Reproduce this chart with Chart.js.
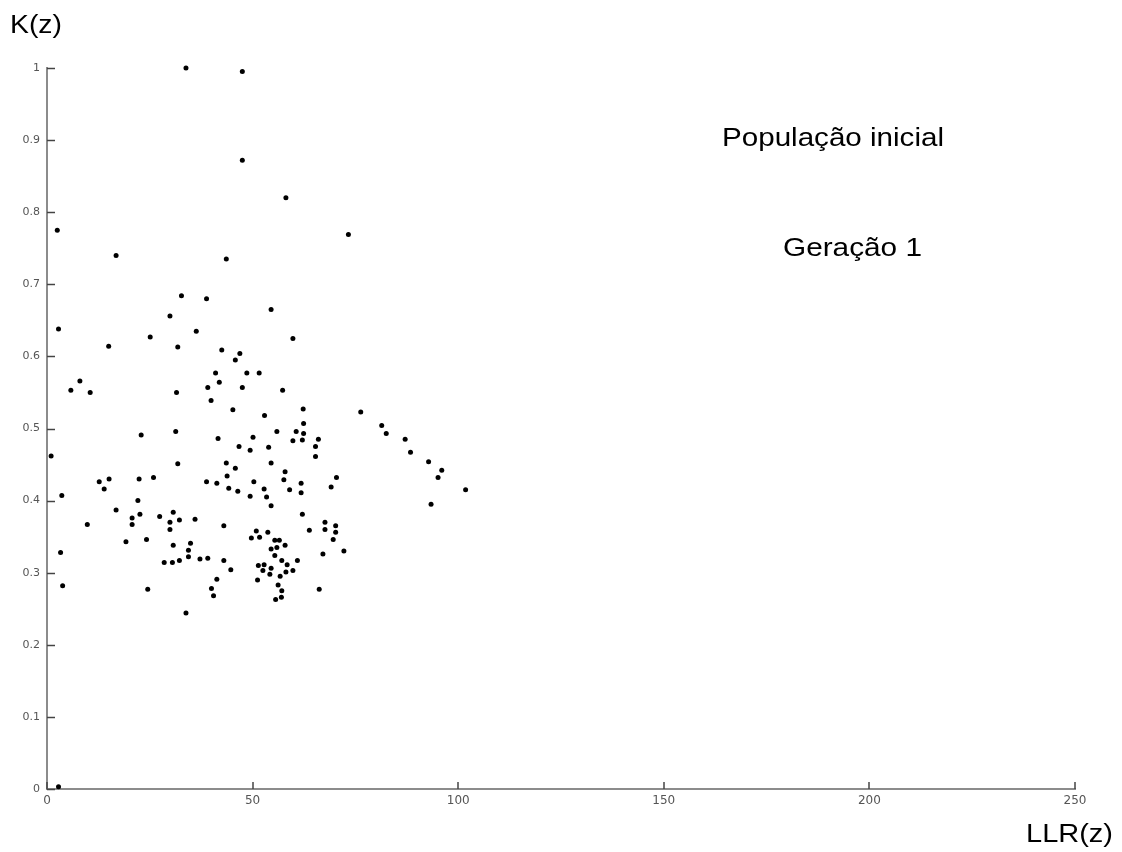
<!DOCTYPE html>
<html>
<head>
<meta charset="utf-8">
<title>População inicial – Geração 1</title>
<script src="https://cdn.jsdelivr.net/npm/chart.js@4.4.1/dist/chart.umd.min.js"></script>
<style>
  html, body { margin: 0; padding: 0; background: #ffffff; }
  #wrap { width: 1122px; height: 852px; position: relative; }
</style>
</head>
<body>
<div id="wrap"><canvas id="chart" width="1122" height="852"></canvas></div>
<script>
// LLR(z) of each individual in the initial population
const llr = [
  33.8, 47.5, 47.5, 58.1, 73.3, 2.5, 16.8, 43.6, 32.7, 38.8,
  29.9, 54.5, 2.8, 36.3, 25.1, 59.8, 15.0, 31.8, 42.5, 46.9,
  45.8, 41.0, 48.6, 51.6, 8.0, 41.9, 5.8, 10.5, 31.5, 39.1,
  47.5, 57.3, 39.9, 45.2, 52.9, 62.3, 76.3, 22.9, 31.3, 1.0,
  31.8, 12.7, 15.1, 13.9, 22.4, 25.9, 38.8, 3.6, 22.1, 16.8,
  20.7, 22.6, 27.4, 30.7, 29.9, 32.2, 36.0, 29.9, 20.7, 9.8,
  19.2, 24.2, 30.7, 34.9, 34.4, 34.4, 28.5, 30.5, 32.2, 37.2,
  39.1, 3.3, 3.8, 24.5, 33.8, 62.4, 60.6, 62.4, 62.1, 59.8,
  66.0, 65.3, 65.3, 55.9, 50.1, 41.6, 46.7, 49.4, 53.9, 43.6,
  45.8, 54.5, 57.9, 43.8, 57.6, 61.8, 41.3, 50.3, 44.2, 46.4,
  52.8, 59.0, 61.8, 49.4, 53.4, 54.5, 69.1, 70.4, 62.1, 43.0,
  50.9, 49.7, 51.7, 53.7, 55.4, 56.5, 57.9, 54.5, 55.9, 55.4,
  57.1, 60.9, 63.8, 67.6, 67.6, 67.1, 43.0, 44.7, 51.4, 52.8,
  52.5, 54.5, 54.2, 56.7, 58.4, 58.1, 59.8, 51.2, 41.3, 40.0,
  40.5, 56.2, 57.1, 57.0, 55.6, 66.2, 81.4, 82.5, 87.1, 88.4,
  92.8, 96.0, 95.1, 101.8, 93.4, 70.2, 70.2, 69.6, 72.2, 2.8
];

// K(z) of the same individuals, in the same order
const kz = [
  1.000, 0.995, 0.872, 0.820, 0.769, 0.775, 0.740, 0.735, 0.684, 0.680,
  0.656, 0.665, 0.638, 0.635, 0.627, 0.625, 0.614, 0.613, 0.609, 0.604,
  0.595, 0.577, 0.577, 0.577, 0.566, 0.564, 0.553, 0.550, 0.550, 0.557,
  0.557, 0.553, 0.539, 0.526, 0.518, 0.527, 0.523, 0.491, 0.496, 0.462,
  0.451, 0.426, 0.430, 0.416, 0.430, 0.432, 0.426, 0.407, 0.400, 0.387,
  0.376, 0.381, 0.378, 0.384, 0.370, 0.373, 0.374, 0.360, 0.367, 0.367,
  0.343, 0.346, 0.338, 0.341, 0.331, 0.322, 0.314, 0.314, 0.317, 0.319,
  0.320, 0.328, 0.282, 0.277, 0.244, 0.507, 0.496, 0.493, 0.484, 0.483,
  0.485, 0.475, 0.461, 0.496, 0.488, 0.486, 0.475, 0.470, 0.474, 0.452,
  0.445, 0.452, 0.440, 0.434, 0.429, 0.424, 0.424, 0.426, 0.417, 0.413,
  0.416, 0.415, 0.411, 0.406, 0.405, 0.393, 0.419, 0.432, 0.381, 0.365,
  0.358, 0.348, 0.349, 0.356, 0.345, 0.345, 0.338, 0.333, 0.335, 0.324,
  0.317, 0.317, 0.359, 0.370, 0.360, 0.326, 0.317, 0.304, 0.310, 0.311,
  0.303, 0.306, 0.298, 0.295, 0.311, 0.301, 0.303, 0.290, 0.291, 0.278,
  0.268, 0.283, 0.275, 0.266, 0.263, 0.277, 0.504, 0.493, 0.485, 0.467,
  0.454, 0.442, 0.432, 0.415, 0.395, 0.365, 0.356, 0.346, 0.330, 0.003
];

const xTicks = [0, 50, 100, 150, 200, 250];
const xTickLabels = ['0', '50', '100', '150', '200', '250'];
const yTicks = [0, 0.1, 0.2, 0.3, 0.4, 0.5, 0.6, 0.7, 0.8, 0.9, 1];
const yTickLabels = ['0', '0.1', '0.2', '0.3', '0.4', '0.5', '0.6', '0.7', '0.8', '0.9', '1'];

const xTitle = 'LLR(z)';
const yTitle = 'K(z)';
const noteTitle = 'População inicial';
const noteGeneration = 'Geração 1';

const points = llr.map((v, i) => ({ x: v, y: kz[i] }));

// Draws a string left-aligned at (x, baseline), stretched to a given width
function stretchedText(ctx, text, x, baseline, width, font) {
  ctx.save();
  ctx.font = font;
  const natural = ctx.measureText(text).width;
  ctx.translate(x, baseline);
  ctx.scale(width / natural, 1);
  ctx.textAlign = 'left';
  ctx.textBaseline = 'alphabetic';
  ctx.fillStyle = '#000000';
  ctx.fillText(text, 0, 0);
  ctx.restore();
}

// Inward tick marks, axis titles and the two annotation lines
const decorations = {
  id: 'decorations',
  afterDraw(chart) {
    const { ctx, chartArea: a, scales: { x, y } } = chart;
    ctx.save();
    ctx.strokeStyle = '#444444';
    ctx.lineWidth = 1.5;
    x.ticks.forEach(t => {
      const px = Math.round(x.getPixelForValue(t.value));
      ctx.beginPath();
      ctx.moveTo(px, a.bottom);
      ctx.lineTo(px, a.bottom - 7);
      ctx.stroke();
    });
    y.ticks.forEach(t => {
      const py = Math.round(y.getPixelForValue(t.value)) + 0.5;
      ctx.beginPath();
      ctx.moveTo(a.left, py);
      ctx.lineTo(a.left + 8, py);
      ctx.stroke();
    });
    ctx.restore();

    stretchedText(ctx, yTitle, 10, 33, 52, '25px "Liberation Sans", Arial, sans-serif');
    stretchedText(ctx, xTitle, 1026, 842, 87, '26px "Liberation Sans", Arial, sans-serif');
    stretchedText(ctx, noteTitle, 722, 146, 222, '25px "Liberation Sans", Arial, sans-serif');
    stretchedText(ctx, noteGeneration, 783, 256, 139, '25px "Liberation Sans", Arial, sans-serif');
  }
};

new Chart(document.getElementById('chart'), {
  type: 'scatter',
  data: {
    datasets: [{
      data: points,
      backgroundColor: '#000000',
      borderWidth: 0,
      pointRadius: 2.5,
      clip: false
    }]
  },
  options: {
    responsive: false,
    animation: false,
    events: [],
    layout: { padding: { top: 68, right: 47, bottom: 0, left: 0 } },
    plugins: { legend: { display: false }, tooltip: { enabled: false } },
    scales: {
      x: {
        type: 'linear',
        min: 0,
        max: 250,
        afterBuildTicks: s => { s.ticks = xTicks.map(v => ({ value: v })); },
        afterFit: s => { s.height = 63; },
        grid: { display: false, drawTicks: false },
        border: { display: true, color: '#8c8c8c', width: 2 },
        ticks: {
          padding: 5,
          color: '#555555',
          font: { family: '"DejaVu Sans", sans-serif', size: 12 },
          maxRotation: 0,
          callback: (v, i) => xTickLabels[i]
        }
      },
      y: {
        type: 'linear',
        min: 0,
        max: 1,
        afterBuildTicks: s => { s.ticks = yTicks.map(v => ({ value: v })); },
        afterFit: s => { s.width = 47; },
        grid: { display: false, drawTicks: false },
        border: { display: true, color: '#8c8c8c', width: 2 },
        ticks: {
          padding: 7,
          color: '#555555',
          font: { family: '"DejaVu Sans", sans-serif', size: 11 },
          callback: (v, i) => yTickLabels[i]
        }
      }
    }
  },
  plugins: [decorations]
});
</script>
</body>
</html>
